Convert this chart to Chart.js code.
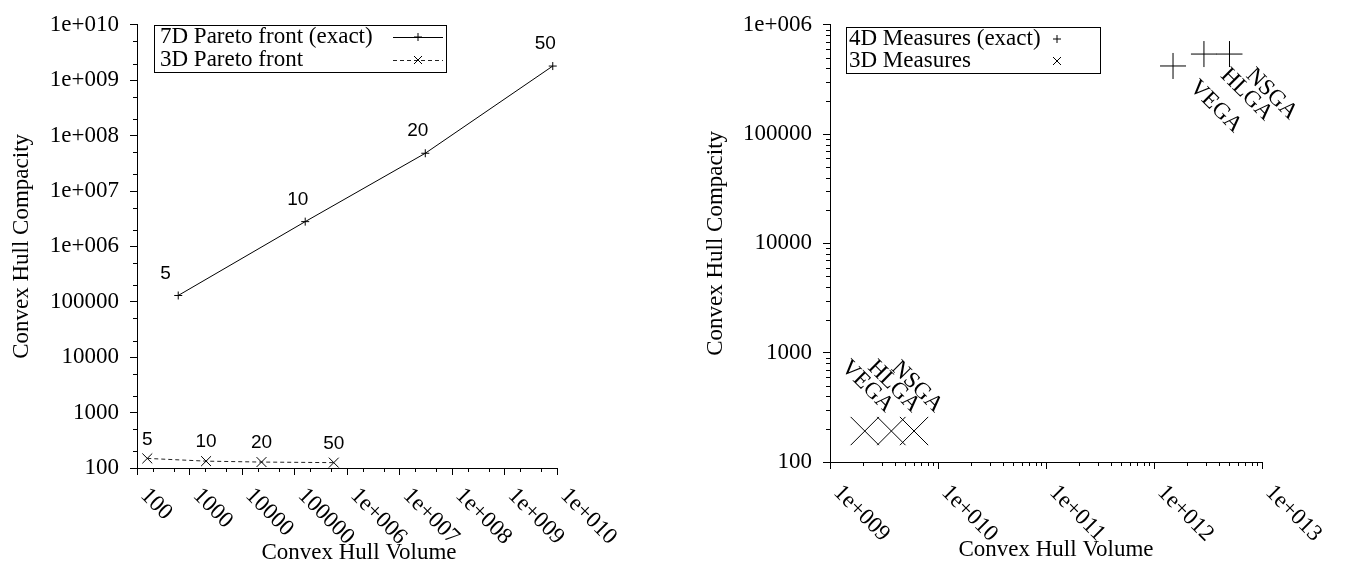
<!DOCTYPE html>
<html>
<head>
<meta charset="utf-8">
<script src="https://cdn.jsdelivr.net/npm/chart.js@4.4.1/dist/chart.umd.min.js"></script>
<style>
  html, body { margin: 0; padding: 0; background: #fff; }
  #wrap { position: relative; width: 1353px; height: 572px; }
  canvas { position: absolute; top: 0; }
  #left { left: 0; }
  #right { left: 676px; }
</style>
</head>
<body>
<div id="wrap">
  <canvas id="left" width="676" height="572"></canvas>
  <canvas id="right" width="677" height="572"></canvas>
</div>
<script>
// left plot: pareto fronts, labelled by population size
const paretoSizes = ['5', '10', '20', '50'];
const volume7D = [610, 1.6e5, 3.1e7, 8.3e9];
const compacity7D = [1.3e5, 2.8e6, 4.8e7, 1.8e9];
const volume3D = [157, 2070, 2.35e4, 5.6e5];
const compacity3D = [149, 133, 128, 125];

// right plot: measures per algorithm
const algorithms = ['VEGA', 'HLGA', 'NSGA'];
const volume4D = [1.5e12, 2.9e12, 5.0e12];
const compacity4D = [4.2e5, 5.4e5, 5.4e5];
const volume3DM = [2.1e9, 3.7e9, 6.0e9];
const compacity3DM = [192, 192, 192];

const leftXTicks = [1e2, 1e3, 1e4, 1e5, 1e6, 1e7, 1e8, 1e9, 1e10];
const leftYTicks = [1e2, 1e3, 1e4, 1e5, 1e6, 1e7, 1e8, 1e9, 1e10];
const rightXTicks = [1e9, 1e10, 1e11, 1e12, 1e13];
const rightYTicks = [1e2, 1e3, 1e4, 1e5, 1e6];

const SERIF = '"Liberation Serif", "Times New Roman", serif';
const SANS = '"Liberation Sans", Arial, sans-serif';

function gnuLabel(v) {
    const e = Math.round(Math.log10(v));
    if (e < 6) return String(Math.round(v));
    return '1e+' + String(e).padStart(3, '0');
}

function toPoints(xs, ys) {
    return xs.map((x, i) => ({ x: x, y: ys[i] }));
}

function minorValues(min, max, mults) {
    const out = [];
    for (let d = Math.floor(Math.log10(min)); d <= Math.ceil(Math.log10(max)); d++) {
        mults.forEach(m => {
            const v = m * Math.pow(10, d);
            if (v > min && v < max) out.push(v);
        });
    }
    return out;
}

function drawMarker(ctx, style, x, y, r) {
    ctx.beginPath();
    if (style === 'cross') {
        ctx.moveTo(x - r, y); ctx.lineTo(x + r, y);
        ctx.moveTo(x, y - r); ctx.lineTo(x, y + r);
    } else {
        ctx.moveTo(x - r, y - r); ctx.lineTo(x + r, y + r);
        ctx.moveTo(x - r, y + r); ctx.lineTo(x + r, y - r);
    }
    ctx.stroke();
}

const gnuplotLook = {
    id: 'gnuplotLook',
    afterDatasetsDraw(chart) {
        const ctx = chart.ctx;
        ctx.save();
        ctx.fillStyle = '#000';
        chart.data.datasets.forEach((ds, i) => {
            if (!ds.pointLabels) return;
            const st = ds.labelStyle;
            const meta = chart.getDatasetMeta(i);
            ctx.font = st.font;
            ctx.textAlign = st.align;
            ctx.textBaseline = 'middle';
            meta.data.forEach((pt, j) => {
                ctx.save();
                ctx.translate(pt.x + st.dx, pt.y + st.dy);
                if (st.rotate) ctx.rotate(st.rotate);
                ctx.fillText(ds.pointLabels[j], 0, 0);
                ctx.restore();
            });
        });
        ctx.restore();
    },
    afterDraw(chart, args, opts) {
        const ctx = chart.ctx;
        const xs = chart.scales.x, ys = chart.scales.y;
        const area = chart.chartArea;
        ctx.save();
        ctx.strokeStyle = '#000';
        ctx.lineWidth = 1;

        // minor tics
        ctx.beginPath();
        minorValues(xs.min, xs.max, opts.minor).forEach(v => {
            const px = Math.round(xs.getPixelForValue(v)) + 0.5;
            ctx.moveTo(px, area.bottom);
            ctx.lineTo(px, area.bottom + opts.minorLength);
        });
        minorValues(ys.min, ys.max, opts.minor).forEach(v => {
            const py = Math.round(ys.getPixelForValue(v)) + 0.5;
            ctx.moveTo(area.left - opts.minorLength, py);
            ctx.lineTo(area.left, py);
        });
        ctx.stroke();

        // x tic labels, rotated by -45 like gnuplot
        ctx.fillStyle = '#000';
        ctx.font = '23px ' + SERIF;
        ctx.textAlign = 'left';
        ctx.textBaseline = 'middle';
        xs.ticks.forEach(t => {
            const px = xs.getPixelForValue(t.value);
            ctx.save();
            ctx.translate(px + opts.xLabelDx, area.bottom + opts.xLabelDy);
            ctx.rotate(Math.PI / 4);
            ctx.fillText(gnuLabel(t.value), 0, 0);
            ctx.restore();
        });

        // x axis title
        ctx.textAlign = 'center';
        ctx.fillText(opts.xTitle, (area.left + area.right) / 2 + opts.xTitleDx, opts.xTitleY);

        // key box
        const k = opts.key;
        ctx.strokeRect(k.left + 0.5, k.top + 0.5, k.right - k.left, k.bottom - k.top);
        ctx.textAlign = 'left';
        chart.data.datasets.forEach((ds, i) => {
            const y = k.rows[i];
            ctx.fillText(ds.label, k.textX, y);
            ctx.save();
            if (ds.showLine) {
                ctx.setLineDash(ds.borderDash || []);
                ctx.strokeStyle = ds.borderColor;
                ctx.beginPath();
                ctx.moveTo(k.sample[0], y + 0.5);
                ctx.lineTo(k.sample[1], y + 0.5);
                ctx.stroke();
                ctx.setLineDash([]);
            }
            ctx.strokeStyle = '#000';
            drawMarker(ctx, ds.pointStyle, (k.sample[0] + k.sample[1]) / 2, y, k.marker[i]);
            ctx.restore();
        });
        ctx.restore();
    }
};

function logAxis(tickValues, min, max, size, title, titlePad) {
    return {
        type: 'logarithmic',
        min: min,
        max: max,
        afterBuildTicks: (scale) => { scale.ticks = tickValues.map(v => ({ value: v })); },
        grid: { display: true, drawOnChartArea: false, drawTicks: true, tickLength: 7, color: '#000', lineWidth: 1 },
        border: { display: true, color: '#000', width: 1 },
        ticks: {
            color: '#000',
            font: { family: SERIF, size: 23 },
            padding: 11,
            callback: (v) => gnuLabel(v)
        },
        title: title ? { display: true, text: title, color: '#000', font: { family: SERIF, size: 23 }, padding: { top: titlePad } } : { display: false },
        afterFit: size
    };
}

// ---------- left chart ----------
const leftX = logAxis(leftXTicks, 1e2, 1e10, (s) => { s.height = 104; });
leftX.ticks.display = false;
const leftY = logAxis(leftYTicks, 1e2, 1e10, (s) => { s.width = 137; }, 'Convex Hull Compacity', 8);

new Chart(document.getElementById('left'), {
    type: 'scatter',
    data: {
        datasets: [
            {
                label: '7D Pareto front (exact)',
                data: toPoints(volume7D, compacity7D),
                showLine: true,
                tension: 0,
                borderColor: '#000',
                borderWidth: 1,
                pointStyle: 'cross',
                pointRadius: 4,
                pointBorderWidth: 1,
                pointBorderColor: '#000',
                pointLabels: paretoSizes,
                labelStyle: { font: '19px ' + SANS, align: 'left', dx: -18, dy: -22 }
            },
            {
                label: '3D Pareto front',
                data: toPoints(volume3D, compacity3D),
                showLine: true,
                tension: 0,
                borderColor: '#222',
                borderWidth: 1,
                borderDash: [4, 3],
                pointStyle: 'crossRot',
                pointRadius: 7,
                pointBorderWidth: 1,
                pointBorderColor: '#000',
                pointLabels: paretoSizes,
                labelStyle: { font: '19px ' + SANS, align: 'center', dx: 0, dy: -19 }
            }
        ]
    },
    options: {
        responsive: false,
        animation: false,
        events: [],
        layout: { padding: { left: 0, top: 20, right: 119, bottom: 0 } },
        scales: { x: leftX, y: leftY },
        plugins: {
            legend: { display: false },
            tooltip: { enabled: false },
            gnuplotLook: {
                minor: [2, 5],
                minorLength: 4,
                xLabelDx: 7,
                xLabelDy: 24,
                xTitle: 'Convex Hull Volume',
                xTitleDx: 12,
                xTitleY: 553,
                key: { left: 154, top: 25, right: 446, bottom: 72, textX: 160, rows: [37, 60], sample: [393, 443], marker: [4, 4] }
            }
        }
    },
    plugins: [gnuplotLook]
});

// ---------- right chart ----------
const rightX = logAxis(rightXTicks, 1e9, 1e13, (s) => { s.height = 110; });
rightX.ticks.display = false;
const rightY = logAxis(rightYTicks, 1e2, 1e6, (s) => { s.width = 154; }, 'Convex Hull Compacity', 26);

new Chart(document.getElementById('right'), {
    type: 'scatter',
    data: {
        datasets: [
            {
                label: '4D Measures (exact)',
                data: toPoints(volume4D, compacity4D),
                showLine: false,
                pointStyle: 'cross',
                pointRadius: 13,
                pointBorderWidth: 1,
                pointBorderColor: '#000',
                pointLabels: algorithms,
                labelStyle: { font: '23px ' + SERIF, align: 'left', dx: 20, dy: 18, rotate: Math.PI / 4 }
            },
            {
                label: '3D Measures',
                data: toPoints(volume3DM, compacity3DM),
                showLine: false,
                pointStyle: 'crossRot',
                pointRadius: 20,
                pointBorderWidth: 1,
                pointBorderColor: '#000',
                pointLabels: algorithms,
                labelStyle: { font: '23px ' + SERIF, align: 'right', dx: 25, dy: -22, rotate: Math.PI / 4 }
            }
        ]
    },
    options: {
        responsive: false,
        animation: false,
        events: [],
        layout: { padding: { left: 0, top: 21, right: 91, bottom: 0 } },
        scales: { x: rightX, y: rightY },
        plugins: {
            legend: { display: false },
            tooltip: { enabled: false },
            gnuplotLook: {
                minor: [2, 3, 4, 5, 6, 7, 8, 9],
                minorLength: 4,
                xLabelDx: 7,
                xLabelDy: 27,
                xTitle: 'Convex Hull Volume',
                xTitleDx: 10,
                xTitleY: 550,
                key: { left: 170, top: 27, right: 424, bottom: 73, textX: 173, rows: [39, 61], sample: [371, 391], marker: [4, 4] }
            }
        }
    },
    plugins: [gnuplotLook]
});
</script>
</body>
</html>
